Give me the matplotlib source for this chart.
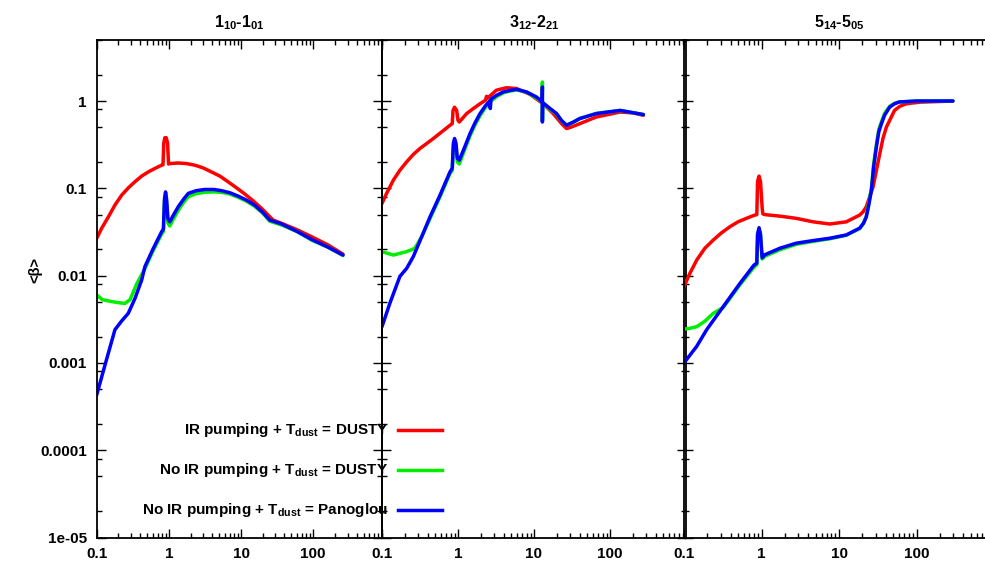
import matplotlib
matplotlib.use("Agg")
import matplotlib.pyplot as plt
from matplotlib.ticker import FixedLocator, NullFormatter, LogLocator

plt.rcParams['font.family'] = ['Liberation Sans', 'DejaVu Sans']
plt.rcParams['font.weight'] = 'bold'
plt.rcParams['mathtext.fontset'] = 'custom'
plt.rcParams['mathtext.rm'] = 'Liberation Sans:bold'
plt.rcParams['mathtext.it'] = 'Liberation Sans:bold'
plt.rcParams['mathtext.bf'] = 'Liberation Sans:bold'

# ---------------- data ----------------
titles = [r"1$_{10}$-1$_{01}$", r"3$_{12}$-2$_{21}$", r"5$_{14}$-5$_{05}$"]
series_labels = [r"IR pumping + T$_{dust}$ = DUSTY",
                 r"No IR pumping + T$_{dust}$ = DUSTY",
                 r"No IR pumping + T$_{dust}$ = Panoglou"]
colors = ["#ff0000", "#00ee00", "#0000ff"]

xticks = [0.1, 1, 10, 100]
xtick_labels = ["0.1", "1", "10", "100"]
yticks = [1e-5, 1e-4, 1e-3, 1e-2, 1e-1, 1]
ytick_labels = ["1e-05", "0.0001", "0.001", "0.01", "0.1", "1"]

# panel 1 : 1_10-1_01
p1_red_x = [0.1, 0.117, 0.145, 0.179, 0.222, 0.274, 0.339, 0.42, 0.518, 0.641, 0.794, 0.83, 0.85, 0.88, 0.92, 0.96, 0.99,
            1.03, 1.35, 1.76, 2.3, 3.0, 3.9, 5.1, 6.6, 8.7, 11.3, 14.8, 19.2, 23.8, 27.8, 36.5, 60, 95, 160, 259]
p1_red_y = [0.0267, 0.0348, 0.047, 0.0643, 0.0836, 0.101, 0.119, 0.138, 0.154, 0.169, 0.184, 0.186, 0.33, 0.38, 0.38, 0.33, 0.19,
            0.192, 0.195, 0.192, 0.184, 0.171, 0.154, 0.138, 0.119, 0.101, 0.086, 0.0716, 0.059, 0.0494, 0.0433, 0.0397, 0.0335, 0.0279, 0.0225, 0.0176]
p1_grn_x = [0.1, 0.12, 0.16, 0.2, 0.246, 0.29, 0.36, 0.466, 0.6, 0.794, 0.84, 0.87, 0.90, 0.93, 0.97, 1.03, 1.2, 1.35, 1.6, 1.86, 2.4, 3.15,
            4.2, 5.35, 7.0, 9.1, 12, 15.5, 20, 25, 36.5, 60, 95, 160, 259]
p1_grn_y = [0.0060, 0.0053, 0.00505, 0.0049, 0.0048, 0.0053, 0.0081, 0.0120, 0.019, 0.030, 0.032, 0.07, 0.088, 0.07, 0.04, 0.037, 0.047, 0.056, 0.069, 0.080, 0.087, 0.090,
            0.091, 0.090, 0.086, 0.079, 0.071, 0.062, 0.052, 0.042, 0.038, 0.032, 0.0255, 0.0212, 0.017]
p1_blu_x = [0.1, 0.13, 0.179, 0.22, 0.274, 0.34, 0.42, 0.466, 0.6, 0.794, 0.84, 0.87, 0.90, 0.93, 0.97, 1.03, 1.2, 1.35, 1.6, 1.86, 2.4, 3.15,
            4.2, 5.35, 7.0, 9.1, 12, 15.5, 20, 25, 36.5, 60, 95, 160, 259]
p1_blu_y = [0.00043, 0.00094, 0.0024, 0.0030, 0.0037, 0.0055, 0.0089, 0.0127, 0.020, 0.0318, 0.034, 0.075, 0.091, 0.075, 0.045, 0.0414, 0.052, 0.0615, 0.075, 0.0875, 0.094, 0.097,
            0.097, 0.094, 0.089, 0.0815, 0.073, 0.064, 0.053, 0.0433, 0.039, 0.032, 0.026, 0.0212, 0.0172]

# panel 2 : 3_12-2_21
p2_red_x = [0.1, 0.115, 0.141, 0.172, 0.211, 0.258, 0.316, 0.387, 0.474, 0.61, 0.784, 0.84, 0.86, 0.90, 0.96, 1.0, 1.04, 1.3, 1.59, 1.95, 2.3, 2.37, 2.45,
            3.2, 4.35, 5.9, 8.9, 13.2, 17.9, 23.1, 26.8, 31.3, 40, 66, 136, 204, 275]
p2_red_y = [0.067, 0.0875, 0.124, 0.161, 0.201, 0.244, 0.286, 0.326, 0.372, 0.443, 0.527, 0.55, 0.78, 0.85, 0.78, 0.6, 0.575, 0.718, 0.82, 0.93, 1.02, 1.13, 1.08,
            1.33, 1.42, 1.39, 1.19, 0.93, 0.718, 0.55, 0.484, 0.505, 0.55, 0.656, 0.748, 0.73, 0.686]
p2_grn_x = [0.1, 0.141, 0.21, 0.27, 0.333, 0.428, 0.58, 0.784, 0.84, 0.87, 0.90, 0.94, 0.98, 1.04, 1.23, 1.44, 1.67, 1.95, 2.27, 2.66, 3.2, 3.95,
            4.8, 5.9, 8.0, 10.8, 12.8, 12.9, 12.9, 13.0, 16.3, 19.8, 23, 26.8, 33, 40, 66, 136, 275]
p2_grn_y = [0.0188, 0.0172, 0.0188, 0.0205, 0.0279, 0.045, 0.08, 0.147, 0.16, 0.31, 0.35, 0.31, 0.2, 0.19, 0.28, 0.40, 0.53, 0.68, 0.83, 0.98, 1.12, 1.24,
            1.30, 1.34, 1.26, 1.08, 0.97, 1.65, 0.60, 0.95, 0.80, 0.71, 0.59, 0.53, 0.57, 0.63, 0.72, 0.78, 0.70]
p2_blu_x = [0.1, 0.127, 0.172, 0.211, 0.258, 0.333, 0.428, 0.58, 0.784, 0.84, 0.87, 0.90, 0.94, 0.98, 1.04, 1.23, 1.44, 1.67, 1.95, 2.27, 2.6, 2.66, 2.72,
            3.2, 3.95, 4.8, 5.9, 8.0, 10.8, 12.8, 12.9, 12.9, 13.0, 16.3, 19.8, 23, 26.8, 33, 40, 66, 136, 275]
p2_blu_y = [0.0026, 0.00483, 0.0098, 0.0121, 0.0165, 0.0279, 0.047, 0.0836, 0.154, 0.17, 0.33, 0.372, 0.33, 0.22, 0.21, 0.30, 0.424, 0.56, 0.718, 0.87, 1.0, 0.82, 1.05,
            1.16, 1.27, 1.32, 1.36, 1.27, 1.11, 0.98, 1.45, 0.575, 0.96, 0.82, 0.718, 0.60, 0.527, 0.575, 0.63, 0.718, 0.78, 0.70]

# panel 3 : 5_14-5_05
p3_red_x = [0.1, 0.119, 0.146, 0.186, 0.239, 0.306, 0.391, 0.5, 0.64, 0.80, 0.87, 0.89, 0.93, 0.97, 1.02, 1.04, 1.1, 1.73, 2.8, 4.65, 7.6, 12.4, 18.5, 20.5,
            22.5, 24.9, 27.5, 30.4, 33.6, 36.9, 40.8, 47.3, 52, 61, 74, 110, 295]
p3_red_y = [0.0075, 0.0106, 0.0151, 0.0206, 0.0256, 0.031, 0.0363, 0.0414, 0.0453, 0.049, 0.05, 0.12, 0.138, 0.12, 0.06, 0.051, 0.05, 0.048, 0.0453, 0.0413, 0.039, 0.0413, 0.0494, 0.054,
            0.0616, 0.08, 0.104, 0.161, 0.25, 0.372, 0.5, 0.656, 0.78, 0.87, 0.93, 0.97, 1.0]
p3_grn_x = [0.1, 0.119, 0.146, 0.186, 0.239, 0.32, 0.53, 0.80, 0.87, 0.89, 0.93, 0.97, 1.02, 1.1, 1.73, 2.8, 4.65, 7.6, 12.4, 18.5, 20.7, 22.5, 24.2, 26.2,
            28, 30.4, 32.6, 35.3, 38.7, 45, 52, 60, 100, 295]
p3_grn_y = [0.00244, 0.00249, 0.0026, 0.003, 0.0037, 0.0043, 0.0079, 0.0125, 0.0133, 0.029, 0.034, 0.029, 0.0155, 0.0166, 0.0198, 0.0228, 0.0247, 0.0264, 0.029, 0.0345, 0.040, 0.048, 0.068, 0.10,
            0.19, 0.32, 0.47, 0.58, 0.72, 0.87, 0.94, 0.975, 1.0, 1.0]
p3_blu_x = [0.1, 0.146, 0.196, 0.32, 0.53, 0.80, 0.87, 0.89, 0.93, 0.97, 1.02, 1.1, 1.73, 2.8, 4.65, 7.6, 12.4, 18.5, 20.7, 22.5, 24.2, 26.2,
            28, 30.4, 32.6, 35.3, 38.7, 45, 52, 60, 100, 295]
p3_blu_y = [0.001, 0.00155, 0.0024, 0.0044, 0.0082, 0.0132, 0.0139, 0.03, 0.0354, 0.03, 0.016, 0.0173, 0.0206, 0.0235, 0.0252, 0.0268, 0.0292, 0.035, 0.0397, 0.047, 0.064, 0.095,
            0.176, 0.30, 0.443, 0.55, 0.686, 0.85, 0.93, 0.975, 1.0, 1.0]

panels = [
    [(p1_red_x, p1_red_y), (p1_grn_x, p1_grn_y), (p1_blu_x, p1_blu_y)],
    [(p2_red_x, p2_red_y), (p2_grn_x, p2_grn_y), (p2_blu_x, p2_blu_y)],
    [(p3_red_x, p3_red_y), (p3_grn_x, p3_grn_y), (p3_blu_x, p3_blu_y)],
]

# ---------------- layout ----------------
W, H = 985, 565
fig = plt.figure(figsize=(W / 100, H / 100), dpi=100)
fig.patch.set_facecolor("white")

top_px, bot_px = 40.0, 537.5
# (left px, width px, xmax)
panel_px = [(96.7, 285.3, 900.0), (382.0, 304.0, 1000.0), (684.0, 310.0, 1000.0)]

axes = []
for i, (left, width, xmax) in enumerate(panel_px):
    ax = fig.add_axes([left / W, (H - bot_px) / H, width / W, (bot_px - top_px) / H])
    ax.set_facecolor("none")
    ax.set_xscale("log")
    ax.set_yscale("log")
    ax.set_xlim(0.1, xmax)
    ax.set_ylim(1e-5, 5)
    for (xs, ys), c in zip(panels[i], colors):
        ax.plot(xs, ys, color=c, lw=2.5, solid_joinstyle="round", solid_capstyle="round")
    ax.xaxis.set_major_locator(FixedLocator(xticks))
    ax.set_xticklabels(xtick_labels)
    ax.xaxis.set_minor_locator(LogLocator(base=10, subs=[2, 3, 4, 5, 6, 7, 8, 9], numticks=20))
    ax.xaxis.set_minor_formatter(NullFormatter())
    ax.yaxis.set_major_locator(FixedLocator(yticks))
    ax.yaxis.set_minor_locator(LogLocator(base=10, subs=[2, 5, 8], numticks=20))
    ax.yaxis.set_minor_formatter(NullFormatter())
    if i == 0:
        ax.set_yticklabels(ytick_labels)
    else:
        ax.set_yticklabels([])
    ax.tick_params(which="both", direction="in", top=True, right=True,
                   labelsize=11, width=1.0, pad=7)
    ax.tick_params(which="major", length=6.5)
    ax.tick_params(which="minor", length=3.8)
    for lab in ax.get_xticklabels() + ax.get_yticklabels():
        lab.set_fontweight("bold")
    for sp in ax.spines.values():
        sp.set_linewidth(1.3)
    ax.set_title(titles[i], fontsize=11.5, fontweight="bold", pad=9)
    axes.append(ax)

ax1 = axes[0]
# y label
fig.text(35 / W, 1 - 270 / H, "<β>", rotation=90, ha="center", va="center",
         fontsize=10.5, fontweight="bold")

# legend (drawn in panel 1 so later panels' frames lie over it)
rows = [430, 470, 510]
for lab, c, ypx in zip(series_labels, colors, rows):
    yf = 1 - ypx / H
    ax1.text(388 / W, yf, lab, transform=fig.transFigure, ha="right", va="center",
             fontsize=11, fontweight="bold", clip_on=False)
    ax1.plot([398 / W, 442 / W], [yf, yf], transform=fig.transFigure, color=c,
             lw=2.5, clip_on=False)

fig.savefig("out.png", dpi=100)
